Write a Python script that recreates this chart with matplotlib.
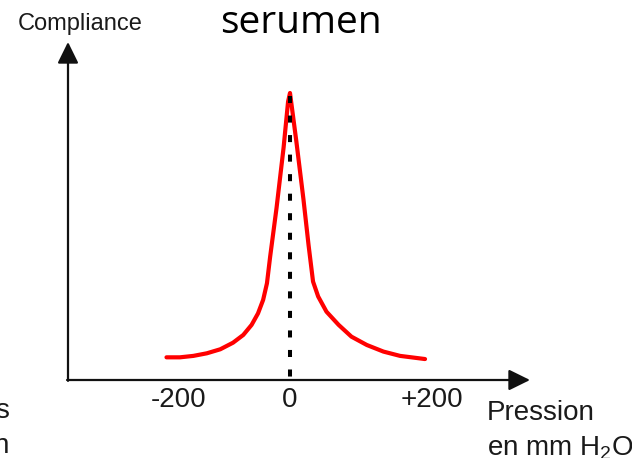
import matplotlib
matplotlib.use("Agg")
import matplotlib.pyplot as plt
import matplotlib.transforms as mtransforms

plt.rcParams["font.family"] = ["Liberation Sans", "DejaVu Sans"]
plt.rcParams["mathtext.default"] = "regular"

# tympanogram (pressure in mm H2O, compliance normalised to the peak)
pressure = [-193, -172, -151, -130, -109, -89, -73, -60, -50, -42, -36, -31,
            -21, -10, -3, 0,
            10, 21, 29, 36, 44, 57, 76, 96, 120, 146, 172, 211]
compliance = [0.079, 0.079, 0.084, 0.093, 0.107, 0.130, 0.157, 0.192, 0.232, 0.279, 0.337, 0.43,
              0.60, 0.81, 0.97, 1.0,
              0.83, 0.63, 0.47, 0.343, 0.291, 0.238, 0.192, 0.151, 0.122, 0.099, 0.084, 0.073]
peak_pressure = 0
tick_values = [-200, 0, 200]
tick_labels = ["-200", "0", "+200"]

# layout (pixels of the 632x458 picture)
W, H = 632, 458
X0_PX, Y0_PX = 290, 380          # where pressure 0 / compliance 0 land
SX, SY = 0.64, 287.0             # px per mm H2O, px per compliance unit
tick_nudge_px = [17, 0, 14]

fig = plt.figure(figsize=(W / 100, H / 100), dpi=100)
ax = fig.add_axes([0, 0, 1, 1])
ax.set_xlim(-X0_PX / SX, (W - X0_PX) / SX)
ax.set_ylim((Y0_PX - H) / SY, Y0_PX / SY)
ax.axis("off")

axis_col = "#111111"
y_axis_x = (68 - X0_PX) / SX
arrow = dict(arrowstyle="-|>,head_length=0.65,head_width=0.32", mutation_scale=20,
             lw=1.6, color=axis_col, shrinkA=0, shrinkB=0)
ax.annotate("", xy=((530 - X0_PX) / SX, 0), xytext=(y_axis_x - 1.5, 0), arrowprops=arrow)
ax.annotate("", xy=(y_axis_x, (Y0_PX - 42) / SY), xytext=(y_axis_x, -0.003), arrowprops=arrow)

ax.plot(pressure, compliance, color="#ff0000", lw=3.0, solid_joinstyle="round",
        solid_capstyle="round", zorder=3)
ax.plot([peak_pressure, peak_pressure], [max(compliance) - 0.01, 0], color="black",
        lw=2.9, ls=(0, (1.75, 3.1)), zorder=4)

for v, lab, dx in zip(tick_values, tick_labels, tick_nudge_px):
    off = mtransforms.ScaledTranslation(dx / 100, 0, fig.dpi_scale_trans)
    ax.text(v, (Y0_PX - 407) / SY, lab, ha="center", va="baseline", fontsize=20,
            color="#1a1a1a", transform=ax.transData + off)

def ftext(x, y, s, **kw):
    fig.text(x / W, 1 - y / H, s, **kw)

ftext(80, 30, "Compliance", ha="center", va="baseline", fontsize=17, color="#1a1a1a")
ftext(301, 33, "serumen", ha="center", va="baseline", fontsize=28, color="black",
      family=["Open Sans", "DejaVu Sans"])
ftext(487, 420, "Pression", ha="left", va="baseline", fontsize=20, color="#1a1a1a")
ftext(487, 456, "en mm H$_2$O", ha="left", va="baseline", fontsize=20, color="#1a1a1a")
ftext(9, 418, "s", ha="right", va="baseline", fontsize=20, color="#1a1a1a")
ftext(9, 453, "n", ha="right", va="baseline", fontsize=20, color="#1a1a1a")

fig.savefig("out.png", dpi=100)
